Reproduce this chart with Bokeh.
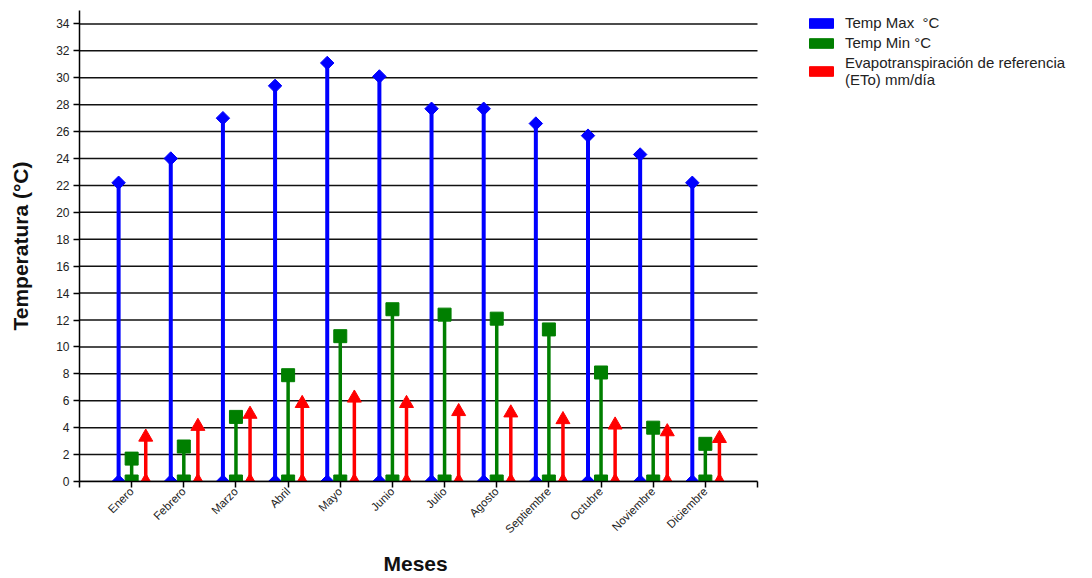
import math
from bokeh.plotting import figure
from bokeh.models import (ColumnDataSource, Range1d, FixedTicker, Legend, LegendItem, Title)
from bokeh.embed import file_html
from bokeh.resources import INLINE

# ---- data ----
months = ["Enero", "Febrero", "Marzo", "Abril", "Mayo", "Junio", "Julio",
          "Agosto", "Septiembre", "Octubre", "Noviembre", "Diciembre"]
temp_max = [22.2, 24.0, 27.0, 29.4, 31.1, 30.1, 27.7, 27.7, 26.6, 25.7, 24.3, 22.2]
temp_min = [1.7, 2.6, 4.8, 7.9, 10.8, 12.8, 12.4, 12.1, 11.3, 8.1, 4.0, 2.8]
eto = [3.3, 4.1, 5.0, 5.8, 6.2, 5.8, 5.2, 5.1, 4.6, 4.2, 3.7, 3.2]
y_ticks = list(range(0, 35, 2))

labels = ["Temp Max  °C", "Temp Min °C",
          "Evapotranspiración de referencia\n(ETo) mm/día"]
colors = ["#0000ff", "#007f00", "#ff0000"]
offsets = [-0.25, 0.0, 0.27]

idx = list(range(1, len(months) + 1))
x_end_axis = len(months) + 1          # axis spans 0 .. 13
plot_px = 678                          # pixel length of the axis
frame_w = 1008                         # frame extends right to hold the legend
x_end = x_end_axis * frame_w / plot_px

p = figure(frame_width=frame_w, frame_height=471, output_backend="svg", toolbar_location=None,
           x_range=Range1d(0, x_end), y_range=Range1d(0, 35),
           min_border_left=79, min_border_right=0, min_border_top=10,
           min_border_bottom=0)
p.outline_line_color = None
p.background_fill_color = "white"

# grid lines limited to the axis span
p.segment(x0=[0] * len(y_ticks), y0=y_ticks, x1=[x_end_axis] * len(y_ticks), y1=y_ticks,
          line_color="#111111", line_width=1.5)

series = [temp_max, temp_min, eto]
renderers = []
nan = float("nan")
for k, vals in enumerate(series):
    xs = [i + offsets[k] for i in idx]
    src = ColumnDataSource(dict(x=xs, y=vals, z=[0] * len(vals)))
    col = colors[k]
    lw = 4 if k == 0 else 3.5
    p.segment(x0="x", y0="z", x1="x", y1="y", source=src, line_color=col, line_width=lw)
    if k == 0:
        kw = dict(marker="square", angle=math.pi / 4, size=9.5)
    elif k == 1:
        kw = dict(marker="square", size=13)
    else:
        kw = dict(marker="triangle", size=14)
    p.scatter("x", "y", source=src, fill_color=col, line_color=col, **kw)
    p.scatter("x", "z", source=src, fill_color=col, line_color=col, **kw)
    # legend proxy (not drawn: NaN values)
    r = p.vbar(x=[nan], top=[nan], width=0.5, fill_color=col, line_color=col)
    renderers.append(r)

# ---- axes ----
font = "Liberation Sans"
p.xaxis.ticker = FixedTicker(ticks=list(range(0, x_end_axis + 1)))
p.xaxis.bounds = (0, x_end_axis)
ov = {i: m for i, m in zip(idx, months)}
ov[0] = ""
ov[x_end_axis] = ""
p.xaxis.major_label_overrides = ov
p.xaxis.major_label_orientation = math.pi / 4
p.xaxis.major_tick_in = 0
p.xaxis.major_tick_out = 6
p.xaxis.major_label_standoff = 2
p.xaxis.minor_tick_line_color = None

p.yaxis.ticker = FixedTicker(ticks=y_ticks)
p.yaxis.major_tick_in = 0
p.yaxis.major_tick_out = 6
p.yaxis.minor_tick_line_color = None
p.yaxis.axis_label = "Temperatura (°C)"
p.yaxis.axis_label_standoff = 21
p.yaxis.major_label_standoff = 4

for ax in (p.xaxis, p.yaxis):
    ax.axis_line_color = "black"
    ax.axis_line_width = 1.5
    ax.major_tick_line_color = "black"
    ax.major_tick_line_width = 1.5
    ax.major_label_text_font = font
    ax.major_label_text_color = "#222222"
    ax.axis_label_text_font = font
    ax.axis_label_text_font_style = "bold"
    ax.axis_label_text_font_size = "21px"
    ax.axis_label_text_color = "#111111"
p.xaxis.major_label_text_font_size = "11.5px"
p.yaxis.major_label_text_font_size = "12px"

p.xgrid.visible = False
p.ygrid.visible = False

# x-axis title, centred under the axis span (not the wider frame)
xtitle = Title(text="Meses", align="left", offset=304, standoff=14,
               text_font=font, text_font_style="bold", text_font_size="21px",
               text_color="#111111")
p.add_layout(xtitle, "below")

# ---- legend ----
legend = Legend(items=[LegendItem(label=labels[k], renderers=[renderers[k]]) for k in range(3)],
                location=(727, 393))
legend.border_line_alpha = 0
legend.background_fill_alpha = 0
legend.glyph_width = 30
legend.glyph_height = 12
legend.label_text_font = font
legend.label_text_font_size = "15px"
legend.label_text_color = "#222222"
legend.label_standoff = 9
legend.spacing = 3
legend.padding = 0
legend.margin = 0
p.add_layout(legend, "center")

open("out.html", "w").write(file_html(p, INLINE))
